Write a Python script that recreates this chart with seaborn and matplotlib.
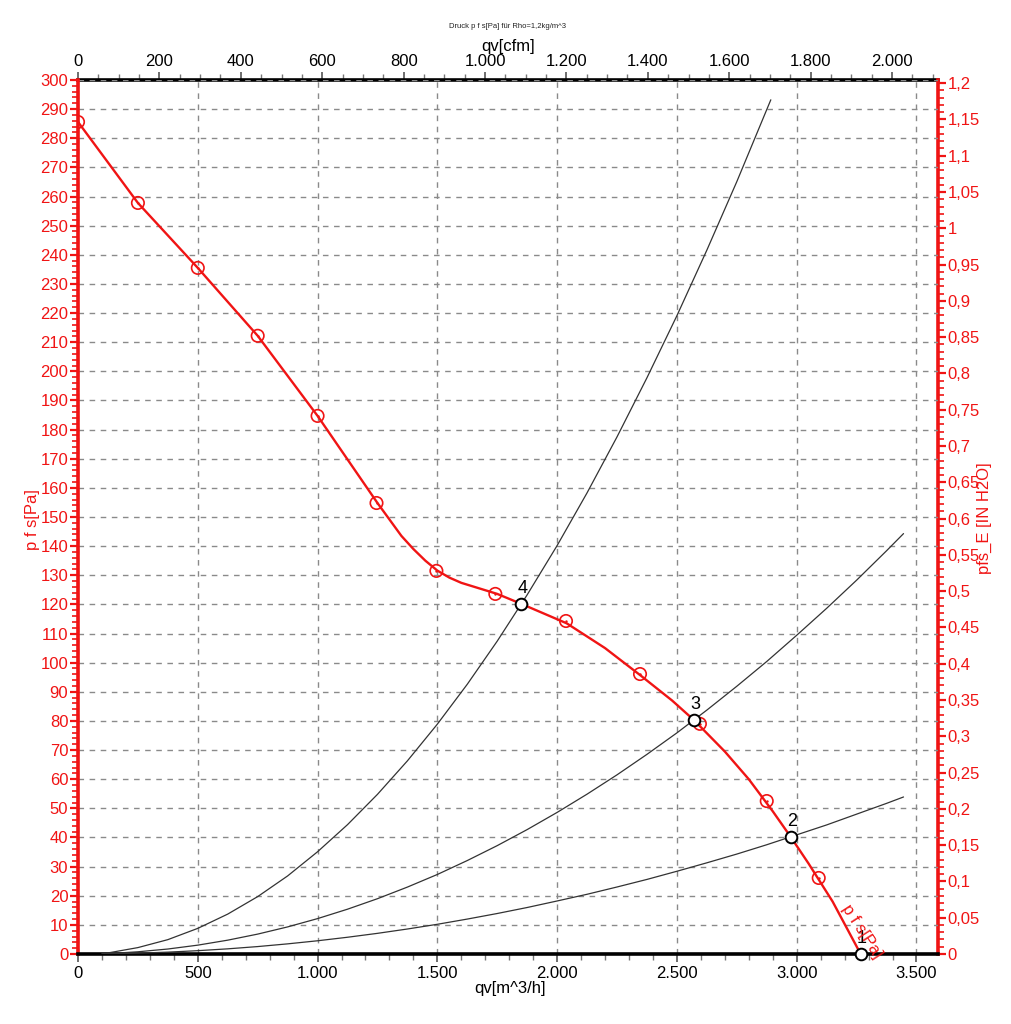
import matplotlib
matplotlib.use('Agg')
import matplotlib.pyplot as plt
import seaborn as sns
import pandas as pd
from matplotlib.ticker import MultipleLocator, FuncFormatter

# ---- data ----
fan_line_q = [0, 250, 500, 750, 1000, 1250, 1350, 1400, 1450, 1500, 1550, 1600, 1750, 1850, 2040,
              2200, 2350, 2480, 2571, 2700, 2800, 2900, 2975, 3050, 3150, 3267]
fan_line_p = [285.6, 257.8, 235.5, 212.2, 184.7, 154.8, 143.5, 139.0, 135.0, 131.6, 129.2, 127.4, 123.6, 120.2, 113.5,
              105.0, 95.5, 87.0, 80.3, 69.5, 60.0, 49.0, 40.2, 31.0, 18.0, 0.0]

fan_marker_q = [0, 250, 500, 750, 1000, 1246, 1496, 1742, 2037, 2346, 2596, 2875, 3092]
fan_marker_p = [285.6, 257.8, 235.5, 212.2, 184.7, 154.8, 131.5, 123.6, 114.3, 96.1, 79.0, 52.5, 26.1]

sys4_q = [100, 250, 375, 500, 625, 750, 875, 1000, 1125, 1250, 1375, 1500, 1625, 1750, 1875,
          2000, 2125, 2250, 2375, 2500, 2625, 2750, 2892]
sys4_p = [0.0, 2.2, 4.93, 8.8, 13.7, 19.7, 26.8, 35.1, 44.4, 54.8, 66.3, 78.9, 92.6, 107.4, 123.3,
          140.2, 158.3, 177.5, 197.8, 219.1, 241.6, 265.1, 293.2]

sys3_q = [100, 250, 375, 500, 625, 750, 875, 1000, 1125, 1250, 1375, 1500, 1625, 1750, 1875, 2000,
          2125, 2250, 2375, 2500, 2625, 2750, 2875, 3000, 3125, 3250, 3375, 3446]
sys3_p = [0.0, 0.76, 1.71, 3.04, 4.75, 6.83, 9.30, 12.15, 15.38, 18.98, 22.97, 27.3, 32.08, 37.2, 42.71, 48.6,
          54.87, 61.5, 68.53, 75.9, 83.72, 91.9, 100.4, 109.4, 118.65, 128.3, 138.4, 144.3]

sys2_q = [100, 250, 375, 500, 625, 750, 875, 1000, 1125, 1250, 1375, 1500, 1625, 1750, 1875, 2000,
          2125, 2250, 2375, 2500, 2625, 2750, 2875, 3000, 3125, 3250, 3375, 3446]
sys2_p = [0.0, 0.28, 0.64, 1.14, 1.77, 2.55, 3.48, 4.54, 5.75, 7.09, 8.58, 10.2, 11.99, 13.9, 15.96, 18.2,
          20.5, 23.0, 25.6, 28.4, 31.3, 34.3, 37.5, 40.9, 44.3, 48.0, 51.7, 53.9]

op_q = [3267, 2975, 2571, 1850]
op_p = [0.0, 40.2, 80.3, 120.2]
op_labels = ['1', '2', '3', '4']

CFM = 1.699      # m^3/h per cfm
INH2O = 249.09   # Pa per inch H2O

sns.set_theme(style='white')
plt.rcParams['font.family'] = ['Liberation Sans', 'DejaVu Sans']

fig = plt.figure(figsize=(10.12, 10.24), dpi=100)
ax = fig.add_axes([0.0771, 0.06836, 0.8498, 0.85352])

RED = '#f01414'

# system curves
for q, p in [(sys4_q, sys4_p), (sys3_q, sys3_p), (sys2_q, sys2_p)]:
    df = pd.DataFrame({'q': q, 'p': p})
    sns.lineplot(data=df, x='q', y='p', ax=ax, color='#333333', lw=0.9,
                 sort=False, estimator=None, zorder=3)

# fan curve
dfl = pd.DataFrame({'q': fan_line_q, 'p': fan_line_p})
sns.lineplot(data=dfl, x='q', y='p', ax=ax, color=RED, lw=1.7,
             sort=False, estimator=None, zorder=4)
dfm = pd.DataFrame({'q': fan_marker_q, 'p': fan_marker_p})
sns.scatterplot(data=dfm, x='q', y='p', ax=ax, marker='o', s=80,
                facecolor='none', edgecolor=RED, linewidth=1.2, zorder=5)
sns.scatterplot(data=dfm, x='q', y='p', ax=ax, marker='o', s=3,
                color=RED, edgecolor=RED, linewidth=0, zorder=5)

# operating points
dfo = pd.DataFrame({'q': op_q, 'p': op_p})
sns.scatterplot(data=dfo, x='q', y='p', ax=ax, marker='o', s=70,
                facecolor='white', edgecolor='black', linewidth=1.4, zorder=6,
                clip_on=False)
for q, p, lab in zip(op_q, op_p, op_labels):
    ax.annotate(lab, (q, p), xytext=(1, 11), textcoords='offset points',
                ha='center', va='center', fontsize=13, color='black', zorder=7)

ax.text(3271, 7.6, 'p f s[Pa]', color=RED, fontsize=12, rotation=-57,
        ha='center', va='center', rotation_mode='anchor', zorder=7)

ax.set_xlim(0, 3590)
ax.set_ylim(0, 300)
ax.set_xlabel('')
ax.set_ylabel('')

ax.xaxis.set_major_locator(MultipleLocator(500))
ax.xaxis.set_minor_locator(MultipleLocator(100))
ax.yaxis.set_major_locator(MultipleLocator(10))
ax.yaxis.set_minor_locator(MultipleLocator(2))

thou = FuncFormatter(lambda v, pos: f"{int(round(v)):,}".replace(',', '.'))
ax.xaxis.set_major_formatter(thou)
ax.yaxis.set_major_formatter(FuncFormatter(lambda v, pos: f"{int(round(v))}"))

ax.grid(True, which='major', color='#8a8a8a', lw=1.0, ls=(0, (4, 4)), zorder=1)

ax.tick_params(axis='x', which='major', direction='out', length=6, width=1.2,
               color='#555555', labelsize=12, labelcolor='black', pad=3, bottom=True)
ax.tick_params(axis='x', which='minor', direction='out', length=4, width=1.0,
               color='#777777', bottom=True)
ax.tick_params(axis='y', which='major', direction='out', length=6, width=1.6,
               color=RED, labelsize=12, labelcolor=RED, pad=1, left=True)
ax.tick_params(axis='y', which='minor', direction='out', length=4, width=1.2,
               color=RED, left=True)

ax.spines['bottom'].set_color('black')
ax.spines['bottom'].set_linewidth(2.6)
ax.spines['left'].set_color(RED)
ax.spines['left'].set_linewidth(2.6)
ax.spines['right'].set_visible(False)
ax.spines['top'].set_visible(False)

# top cfm axis
sx = ax.secondary_xaxis('top', functions=(lambda x: x / CFM, lambda c: c * CFM))
sx.xaxis.set_major_locator(MultipleLocator(200))
sx.xaxis.set_minor_locator(MultipleLocator(50))
sx.xaxis.set_major_formatter(thou)
sx.spines['top'].set_color('black')
sx.spines['top'].set_linewidth(2.6)
sx.tick_params(axis='x', which='major', direction='out', length=6, width=1.2,
               color='#555555', labelsize=12, labelcolor='black', pad=2)
sx.tick_params(axis='x', which='minor', direction='out', length=4, width=1.0,
               color='#777777')

# right inch H2O axis
sy = ax.secondary_yaxis('right', functions=(lambda p: p / INH2O, lambda h: h * INH2O))
sy.yaxis.set_major_locator(MultipleLocator(0.05))
sy.yaxis.set_minor_locator(MultipleLocator(0.01))


def fmt_right(v, pos):
    s = f"{v:.2f}".rstrip('0').rstrip('.')
    return s.replace('.', ',')


sy.yaxis.set_major_formatter(FuncFormatter(fmt_right))
sy.spines['right'].set_color(RED)
sy.spines['right'].set_linewidth(2.6)
sy.tick_params(axis='y', which='major', direction='out', length=6, width=1.6,
               color=RED, labelsize=12, labelcolor=RED, pad=1)
sy.tick_params(axis='y', which='minor', direction='out', length=4, width=1.2,
               color=RED)

# labels
fig.text(508 / 1012, 1 - 27 / 1024, 'Druck p f s[Pa] für Rho=1,2kg/m^3',
         ha='center', va='center', fontsize=5.5, color='#222222')
fig.text(508 / 1012, 1 - 47 / 1024, 'qv[cfm]', ha='center', va='center',
         fontsize=12, color='black')
fig.text(510 / 1012, 1 - 989 / 1024, 'qv[m^3/h]', ha='center', va='center',
         fontsize=12, color='black')
fig.text(33 / 1012, 1 - 520 / 1024, 'p f s[Pa]', ha='center', va='center',
         rotation=90, fontsize=12, color=RED)
fig.text(984 / 1012, 1 - 518 / 1024, 'pfs_E [IN H2O]', ha='center', va='center',
         rotation=90, fontsize=12, color=RED)

fig.savefig('out.png', dpi=100)
